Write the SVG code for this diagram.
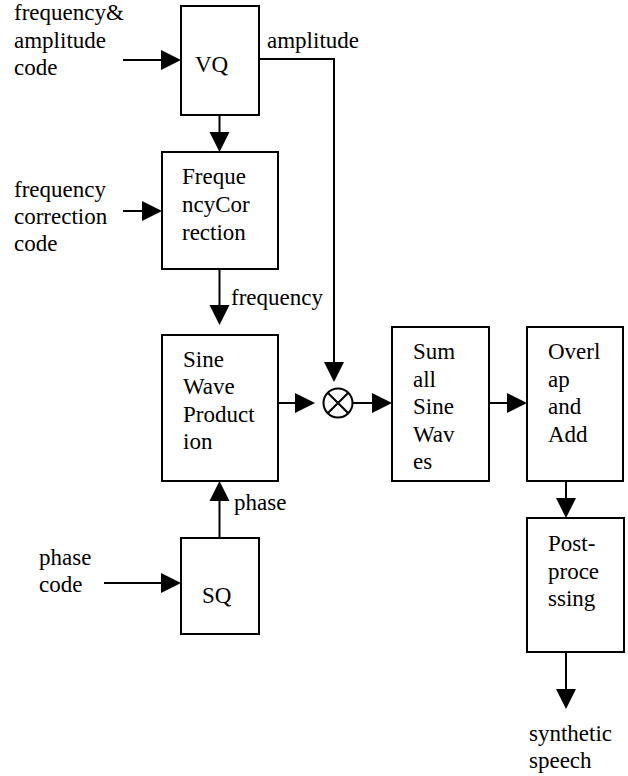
<svg xmlns="http://www.w3.org/2000/svg" xmlns:xlink="http://www.w3.org/1999/xlink" width="628" height="776" viewBox="0 0 628 776">
<style>
.box{fill:#fff;stroke:#000;stroke-width:2}
.c{fill:none;stroke:#000;stroke-width:2}
.t{font-family:'Liberation Serif','Times New Roman',serif;font-size:23px;fill:#000}
</style>
<defs>
<path id="ah" d="M-20,-10 L0,0 L-20,10 z" fill="#000"/>
</defs>
<rect width="628" height="776" fill="#fff"/>
<g id="connectors">
<line class="c" x1="123" y1="60" x2="165" y2="60"/>
<use xlink:href="#ah" href="#ah" transform="translate(181,60)"/>
<line class="c" x1="219.5" y1="115" x2="219.5" y2="136"/>
<use xlink:href="#ah" href="#ah" transform="translate(219.5,152) rotate(90)"/>
<line class="c" x1="123" y1="211" x2="146" y2="211"/>
<use xlink:href="#ah" href="#ah" transform="translate(162,211)"/>
<line class="c" x1="219.5" y1="269" x2="219.5" y2="309"/>
<use xlink:href="#ah" href="#ah" transform="translate(219.5,325) rotate(90)"/>
<polyline class="c" points="259,59 334,59 334,366"/>
<use xlink:href="#ah" href="#ah" transform="translate(334,382) rotate(90)"/>
<line class="c" x1="278" y1="403" x2="299" y2="403"/>
<use xlink:href="#ah" href="#ah" transform="translate(315,403)"/>
<line class="c" x1="352.5" y1="403" x2="376" y2="403"/>
<use xlink:href="#ah" href="#ah" transform="translate(392,403)"/>
<line class="c" x1="489" y1="403" x2="511" y2="403"/>
<use xlink:href="#ah" href="#ah" transform="translate(527,403)"/>
<line class="c" x1="566" y1="481" x2="566" y2="502"/>
<use xlink:href="#ah" href="#ah" transform="translate(566,518) rotate(90)"/>
<line class="c" x1="566" y1="652" x2="566" y2="693"/>
<use xlink:href="#ah" href="#ah" transform="translate(566,709) rotate(90)"/>
<line class="c" x1="219.5" y1="538" x2="219.5" y2="497"/>
<use xlink:href="#ah" href="#ah" transform="translate(219.5,481) rotate(-90)"/>
<line class="c" x1="104" y1="583" x2="165" y2="583"/>
<use xlink:href="#ah" href="#ah" transform="translate(181,583)"/>
</g>
<g id="vq">
<rect class="box" x="181" y="6" width="78" height="109"/>
<text class="t" x="195" y="72" font-family="Liberation Serif">VQ</text>
</g>
<g id="freqcorr">
<rect class="box" x="162" y="152" width="116" height="117"/>
<text class="t" x="182" y="184" font-family="Liberation Serif">Freque</text>
<text class="t" x="182" y="211.5" font-family="Liberation Serif">ncyCor</text>
<text class="t" x="182" y="239.5" font-family="Liberation Serif">rection</text>
</g>
<g id="sinewave">
<rect class="box" x="162" y="335" width="116" height="146"/>
<text class="t" x="183" y="366.5" font-family="Liberation Serif">Sine</text>
<text class="t" x="183" y="394" font-family="Liberation Serif">Wave</text>
<text class="t" x="183" y="421.5" font-family="Liberation Serif">Product</text>
<text class="t" x="183" y="449" font-family="Liberation Serif">ion</text>
</g>
<g id="multiplier">
<circle class="c" cx="338" cy="403" r="14.5"/>
<line class="c" x1="327.7" y1="392.7" x2="348.3" y2="413.3"/>
<line class="c" x1="327.7" y1="413.3" x2="348.3" y2="392.7"/>
</g>
<g id="sum">
<rect class="box" x="392" y="327" width="97" height="154"/>
<text class="t" x="413" y="359" font-family="Liberation Serif">Sum</text>
<text class="t" x="413" y="386.5" font-family="Liberation Serif">all</text>
<text class="t" x="413" y="414" font-family="Liberation Serif">Sine</text>
<text class="t" x="413" y="441.5" font-family="Liberation Serif">Wav</text>
<text class="t" x="413" y="469" font-family="Liberation Serif">es</text>
</g>
<g id="overlap">
<rect class="box" x="527" y="327" width="96" height="154"/>
<text class="t" x="548" y="359" font-family="Liberation Serif">Overl</text>
<text class="t" x="548" y="386.5" font-family="Liberation Serif">ap</text>
<text class="t" x="548" y="414" font-family="Liberation Serif">and</text>
<text class="t" x="548" y="441.5" font-family="Liberation Serif">Add</text>
</g>
<g id="post">
<rect class="box" x="527" y="518" width="97" height="134"/>
<text class="t" x="548" y="551" font-family="Liberation Serif">Post-</text>
<text class="t" x="548" y="578.5" font-family="Liberation Serif">proce</text>
<text class="t" x="548" y="606" font-family="Liberation Serif">ssing</text>
</g>
<g id="sq">
<rect class="box" x="181" y="538" width="78" height="96"/>
<text class="t" x="202" y="603" font-family="Liberation Serif">SQ</text>
</g>
<g id="labels">
<text class="t" x="14" y="20" font-family="Liberation Serif">frequency&amp;</text>
<text class="t" x="14" y="47.5" font-family="Liberation Serif">amplitude</text>
<text class="t" x="14" y="75" font-family="Liberation Serif">code</text>
<text class="t" x="267" y="48" font-family="Liberation Serif">amplitude</text>
<text class="t" x="14" y="197" font-family="Liberation Serif">frequency</text>
<text class="t" x="14" y="224" font-family="Liberation Serif">correction</text>
<text class="t" x="14" y="251" font-family="Liberation Serif">code</text>
<text class="t" x="231" y="305" font-family="Liberation Serif">frequency</text>
<text class="t" x="234" y="510" font-family="Liberation Serif">phase</text>
<text class="t" x="39" y="565" font-family="Liberation Serif">phase</text>
<text class="t" x="39" y="592" font-family="Liberation Serif">code</text>
<text class="t" x="529" y="741" font-family="Liberation Serif">synthetic</text>
<text class="t" x="529" y="768" font-family="Liberation Serif">speech</text>
</g>
</svg>
